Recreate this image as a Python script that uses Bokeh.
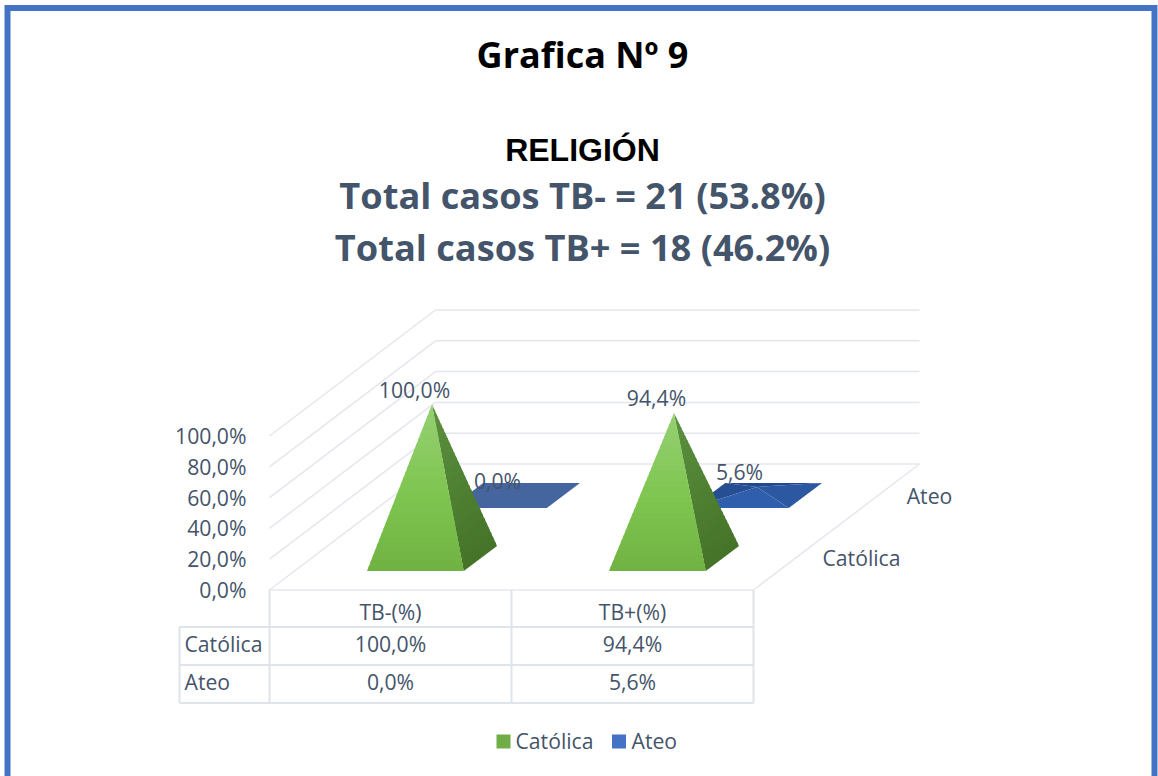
from bokeh.plotting import figure
from bokeh.models import Range1d
from bokeh.core.properties import value
from bokeh.embed import file_html
from bokeh.resources import INLINE

# ---- data ----
categories = ["TB-(%)", "TB+(%)"]
series_names = ["Católica", "Ateo"]
catolica = [100.0, 94.4]
ateo = [0.0, 5.6]
y_ticks = [0, 20, 40, 60, 80, 100]
title_main = "Grafica Nº 9"
title_sub = "RELIGIÓN"
title_lines = ["Total casos TB- = 21 (53.8%)", "Total casos TB+ = 18 (46.2%)"]

# ---- style ----
TXT = "#44546a"
GRID = "#e4e7ee"
TBL = "#dfe3ea"
FONT = "Open Sans"
LS = 21.2


def pct(v):
    return f"{v:.1f}".replace(".", ",") + "%"


p = figure(width=1158, height=776, output_backend="svg", toolbar_location=None,
           x_range=Range1d(1, 1159), y_range=Range1d(775.5, -0.5), min_border=0,
           outline_line_color=None, background_fill_color="white", border_fill_color="white")
p.xaxis.visible = False
p.yaxis.visible = False
p.xgrid.visible = False
p.ygrid.visible = False

# ---- projection of the 3-D box: X = category, Z = series depth, Y = percent ----
OX, OY = 270, 589
UX = 242
ZX, ZY = 83, 63
VY = 1.54


def proj(x, z, y):
    return OX + x * UX + z * ZX, OY - z * ZY - y * VY


def seg(a, b, color, width=1.5):
    p.line([a[0], b[0]], [a[1], b[1]], line_color=color, line_width=width)


def text(x, y, s, size, color=TXT, align="center", style="normal", font=FONT, baseline="middle"):
    p.text([x], [y], text=[s], text_font=value(font), text_font_size=f"{size}px",
           text_color=color, text_align=align, text_baseline=baseline, text_font_style=style)


def lerp(a, b, t):
    return a + (b - a) * t


def mix(stops, t):
    for (t0, c0), (t1, c1) in zip(stops, stops[1:]):
        if t <= t1:
            u = (t - t0) / (t1 - t0) if t1 > t0 else 0
            return "#%02x%02x%02x" % tuple(round(lerp(c0[i], c1[i], u)) for i in range(3))
    return "#%02x%02x%02x" % tuple(stops[-1][1])


def face(pts, apex, stops, bands=30):
    """A triangular face, filled with vertical gradient bands from apex (t=0) to base (t=1)."""
    a, b = pts
    xs, ys, cols = [], [], []
    for i in range(bands):
        t0, t1 = i / bands, (i + 1) / bands
        t1b = min(1, t1 + 0.6 / bands)
        xs.append([lerp(apex[0], a[0], t0), lerp(apex[0], b[0], t0), lerp(apex[0], b[0], t1b), lerp(apex[0], a[0], t1b)])
        ys.append([lerp(apex[1], a[1], t0), lerp(apex[1], b[1], t0), lerp(apex[1], b[1], t1b), lerp(apex[1], a[1], t1b)])
        cols.append(mix(stops, (t0 + t1) / 2))
    p.patches(xs, ys, fill_color=cols, line_color=None)


G_FRONT = [(0, (0x96, 0xd0, 0x72)), (0.55, (0x7e, 0xc5, 0x50)), (1, (0x71, 0xb2, 0x42))]
G_RIGHT = [(0, (0x5c, 0x91, 0x3f)), (1, (0x45, 0x73, 0x28))]
B_FRONT = [(0, (0x30, 0x60, 0xad)), (1, (0x2e, 0x5e, 0xab))]
B_RIGHT = [(0, (0x2c, 0x58, 0xa2)), (1, (0x2b, 0x57, 0xa0))]
B_BACK = [(0, (0x24, 0x4a, 0x8e)), (1, (0x22, 0x48, 0x8c))]
B_LEFT = [(0, (0x27, 0x4e, 0x92)), (1, (0x26, 0x4d, 0x91))]
B_FLAT = "#45659f"


def pyramid(xc, zc, v, front, right, back=None, left=None, bands=30):
    h = 0.2
    fl, fr = proj(xc - h, zc - h, 0), proj(xc + h, zc - h, 0)
    br, bl = proj(xc + h, zc + h, 0), proj(xc - h, zc + h, 0)
    apex = proj(xc, zc, v)
    if back:
        face((bl, br), apex, back, bands=1)
    if left:
        face((fl, bl), apex, left, bands=1)
    face((fr, br), apex, right, bands=bands)
    face((fl, fr), apex, front, bands=bands)


# ---- frame ----
BLUE = "#4472c4"
p.line([8, 8, 1155, 1155], [776, 7, 7, 776], line_color=BLUE, line_width=6, line_join="miter")

# ---- walls and floor ----
for t in y_ticks:
    seg(proj(0, 0, t), proj(0, 2, t), GRID)
    seg(proj(0, 2, t), proj(2, 2, t), GRID)
    text(247, proj(0, 0, t)[1] - 0.5, pct(t), LS, align="right")
seg(proj(0, 0, 0), proj(2, 0, 0), GRID)
seg(proj(2, 0, 0), proj(2, 2, 0), GRID)

# ---- marks: back series first ----
for i, v in enumerate(ateo):
    xc = i + 0.5
    if v == 0:
        c = [proj(xc - 0.2, 1.3, 0), proj(xc + 0.2, 1.3, 0), proj(xc + 0.2, 1.7, 0), proj(xc - 0.2, 1.7, 0)]
        p.patch([q[0] for q in c], [q[1] for q in c], fill_color=B_FLAT, line_color=None)
    else:
        pyramid(xc, 1.5, v, B_FRONT, B_RIGHT, B_BACK, B_LEFT, bands=1)
for i, v in enumerate(catolica):
    pyramid(i + 0.5, 0.5, v, G_FRONT, G_RIGHT)

# ---- data labels ----
for i, v in enumerate(catolica):
    ax, ay = proj(i + 0.5, 0.5, v)
    text(ax - 17.5, ay - 15.5, pct(v), LS)
for i, v in enumerate(ateo):
    ax, ay = proj(i + 0.5, 1.5, v)
    text(ax - 17.5, ay - 15, pct(v), LS)

# ---- depth-axis labels ----
text(862, 556, series_names[0], LS)
text(930, 494, series_names[1], LS)

# ---- data table ----
TX = [180, 270, 512, 754]
TY = [589, 626, 664, 702]
seg((TX[1], TY[0]), (TX[1], TY[3]), TBL, 2)
seg((TX[2], TY[0]), (TX[2], TY[3]), TBL, 2)
seg((TX[3], TY[0]), (TX[3], TY[3]), TBL, 2)
seg((TX[0], TY[1]), (TX[0], TY[3]), TBL, 2)
seg((TX[0], TY[1]), (TX[3], TY[1]), TBL, 2)
seg((TX[0], TY[2]), (TX[3], TY[2]), TBL, 2)
seg((TX[0], TY[3]), (TX[3], TY[3]), TBL, 2)
for j, cat in enumerate(categories):
    text((TX[j + 1] + TX[j + 2]) / 2, 610, cat, LS)
rows = [catolica, ateo]
for r, vals in enumerate(rows):
    cy = (TY[r + 1] + TY[r + 2]) / 2 - 3
    text(185, cy, series_names[r], LS, align="left")
    for j, v in enumerate(vals):
        text((TX[j + 1] + TX[j + 2]) / 2, cy, pct(v), LS)

# ---- legend ----
p.quad(left=[497], right=[511], top=[733.5], bottom=[747.5], fill_color="#70ad47", line_color=None)
p.quad(left=[612.5], right=[626.5], top=[733.5], bottom=[747.5], fill_color="#4472c4", line_color=None)
text(516, 739, series_names[0], LS, align="left")
text(632, 739, series_names[1], LS, align="left")

# ---- titles ----
text(583, 53, title_main, 36, color="#000000", style="bold")
text(583, 149, title_sub, 32, color="#000000", style="bold", font="Liberation Sans")
text(583, 194, title_lines[0], 36.2, style="bold")
text(583, 246, title_lines[1], 36.2, style="bold")

open("out.html", "w").write(file_html(p, INLINE))
